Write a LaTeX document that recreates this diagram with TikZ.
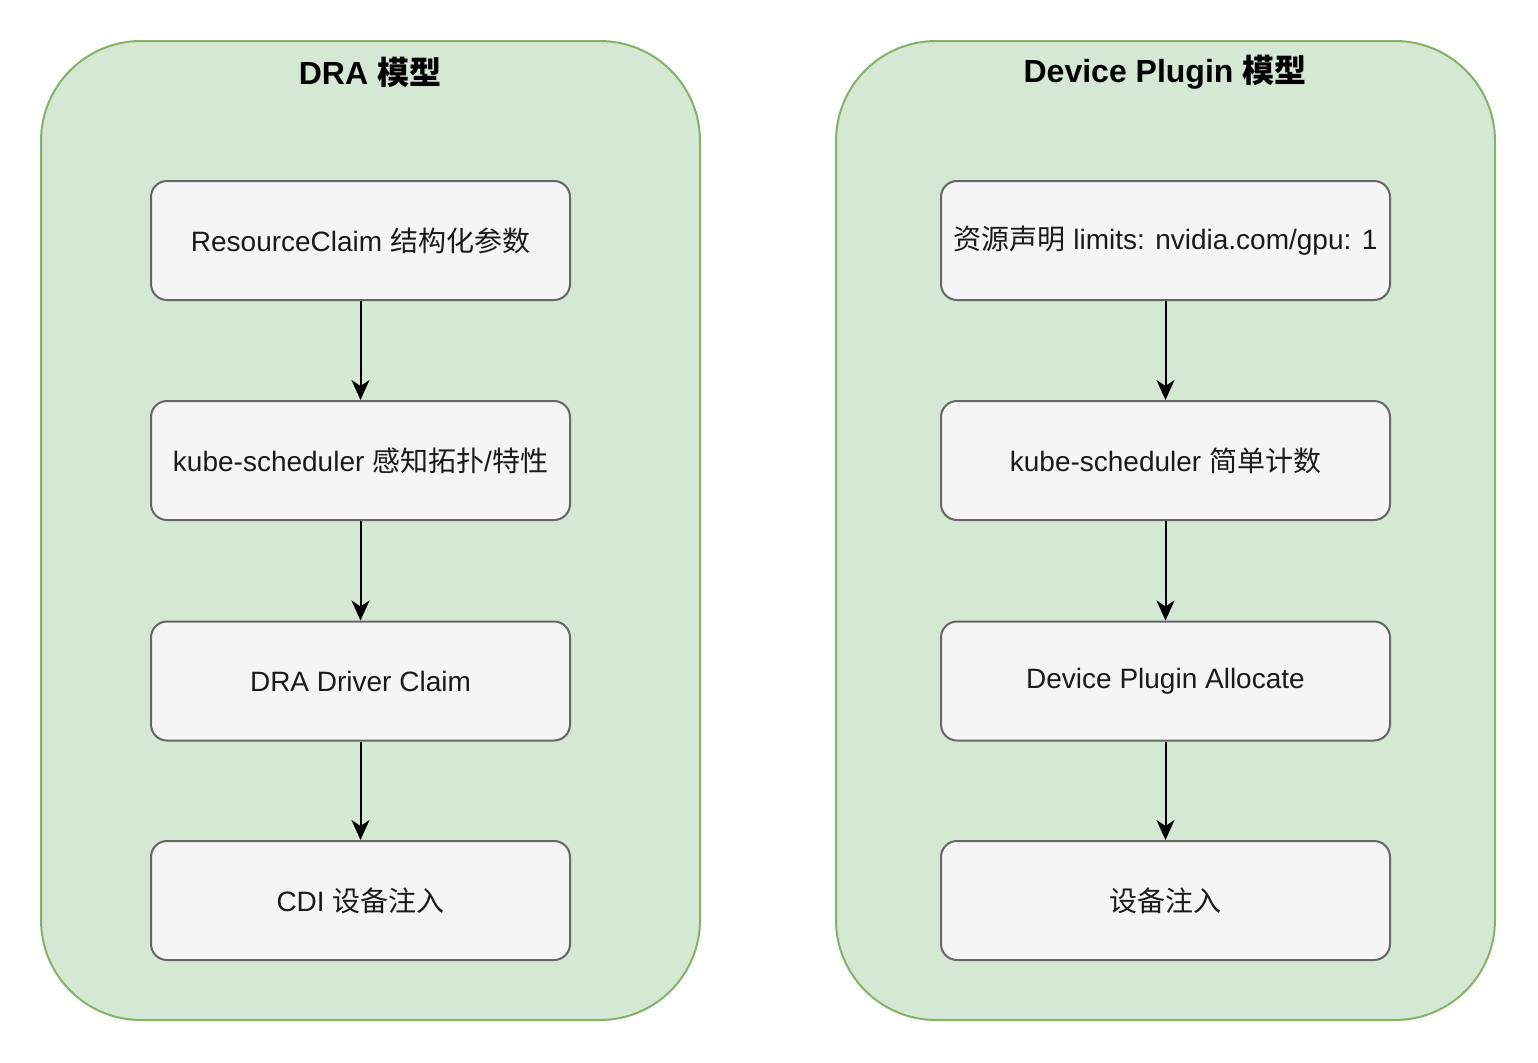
\documentclass[tikz,border=0pt]{standalone}
\usepackage{fontspec}
\setmainfont{Liberation Sans}
\newfontfamily\cjk{Noto Sans CJK SC}
\usetikzlibrary{arrows.meta,positioning}
\definecolor{grpfill}{HTML}{D5E8D4}
\definecolor{grpline}{HTML}{82B366}
\definecolor{boxfill}{HTML}{F5F5F5}
\definecolor{boxline}{HTML}{666666}
\definecolor{txt}{HTML}{1A1A1A}
\tikzset{
  group/.style={draw=grpline,fill=grpfill,line width=1pt,rounded corners=50pt,
    minimum width=329.5pt,minimum height=489.5pt,inner sep=0pt},
  stepbox/.style={draw=boxline,fill=boxfill,line width=1pt,rounded corners=8pt,
    minimum height=59.5pt,inner sep=0pt,font=\fontsize{14}{16}\selectfont,text=txt},
  grptitle/.style={font=\fontsize{16}{19}\selectfont\bfseries},
  flow/.style={-{Stealth[length=10pt,width=9pt,inset=3pt]},line width=1pt}
}
\begin{document}
\begin{tikzpicture}[x=0.5pt,y=-0.5pt]
\useasboundingbox (0,0) rectangle (1538,1062);
% the two models
\node[group] (dra) at (370.5,530.5) {};
\node[group] (dp) at (1165.5,530.5) {};
\node[grptitle] (draT) at (370,72) {DRA {\cjk 模型}};
\node[grptitle] (dpT) at (1165,72) {Device Plugin {\cjk 模型}};
% DRA steps
\node[stepbox,minimum width=209.5pt] (d1) at (360.5,240.5) {ResourceClaim {\cjk 结构化参数}};
\node[stepbox,minimum width=209.5pt] (d2) at (360.5,460.5) {kube-scheduler {\cjk 感知拓扑}/{\cjk 特性}};
\node[stepbox,minimum width=209.5pt] (d3) at (360.5,681) {DRA Driver Claim};
\node[stepbox,minimum width=209.5pt] (d4) at (360.5,900.5) {CDI {\cjk 设备注入}};
% Device Plugin steps
\node[stepbox,minimum width=224.5pt] (p1) at (1165.5,240.5) {{\cjk 资源声明} limits: nvidia.com/gpu: 1};
\node[stepbox,minimum width=224.5pt] (p2) at (1165.5,460.5) {kube-scheduler {\cjk 简单计数}};
\node[stepbox,minimum width=224.5pt] (p3) at (1165.5,681) {Device Plugin Allocate};
\node[stepbox,minimum width=224.5pt] (p4) at (1165.5,900.5) {{\cjk 设备注入}};
\foreach \a/\b in {d1/d2,d2/d3,d3/d4,p1/p2,p2/p3,p3/p4}
  \draw[flow] (\a) -- (\b);
\end{tikzpicture}
\end{document}
